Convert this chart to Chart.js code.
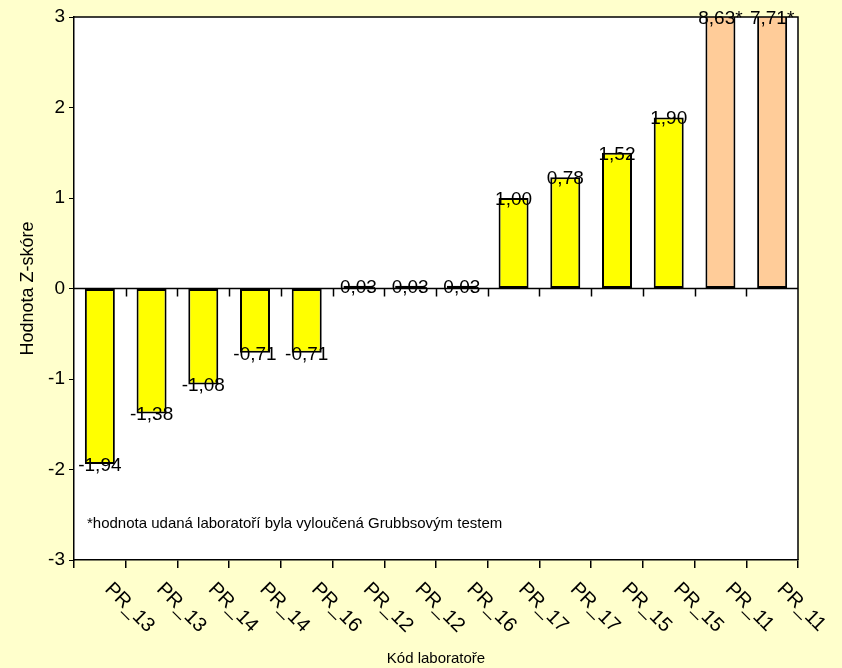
<!DOCTYPE html>
<html>
<head>
<meta charset="utf-8">
<script src="https://cdn.jsdelivr.net/npm/chart.js@4.4.1/dist/chart.umd.min.js"></script>
<style>
    html, body { margin: 0; padding: 0; background: #FFFFCC; }
    #wrap { width: 842px; height: 668px; }
</style>
</head>
<body>
<div id="wrap"><canvas id="zChart" width="842" height="668"></canvas></div>
<script>
// data
const LAB_CODES = ['PR_13','PR_13','PR_14','PR_14','PR_16','PR_12','PR_12','PR_16','PR_17','PR_17','PR_15','PR_15','PR_11','PR_11'];
const Z_SCORES = [-1.94, -1.38, -1.06, -0.71, -0.71, 0.03, 0.03, 0.03, 1.00, 1.23, 1.50, 1.89, 8.63, 7.71];
const VALUE_TEXT = ['-1,94','-1,38','-1,08','-0,71','-0,71','0,03','0,03','0,03','1,00','0,78','1,52','1,90','8,63*','7,71*'];
const EXCLUDED = [false,false,false,false,false,false,false,false,false,false,false,false,true,true];
const Y_MIN = -3;
const Y_MAX = 3;
const FOOTNOTE = '*hodnota udaná laboratoří byla vyloučená Grubbsovým testem';
const X_TITLE = 'Kód laboratoře';
const Y_TITLE = 'Hodnota Z-skóre';

const FONT = 'Arial, "Liberation Sans", sans-serif';

// pozadí, rámeček, nulová čára, popisky
const framePlugin = {
    id: 'zFrame',
    beforeDraw(chart) {
        const { ctx, chartArea: a } = chart;
        ctx.save();
        ctx.fillStyle = '#FFFFCC';
        ctx.fillRect(0, 0, chart.width, chart.height);
        ctx.fillStyle = '#FFFFFF';
        ctx.fillRect(a.left, a.top, a.right - a.left, a.bottom - a.top);
        ctx.restore();
    },
    afterDatasetsDraw(chart) {
        const { ctx, chartArea: a } = chart;
        const xs = chart.scales.x;
        const ys = chart.scales.y;
        const y0 = ys.getPixelForValue(0);
        ctx.save();

        // nulová čára s dílky
        ctx.strokeStyle = '#000';
        ctx.lineWidth = 1.5;
        ctx.beginPath();
        ctx.moveTo(a.left, y0);
        ctx.lineTo(a.right, y0);
        for (let i = 0; i < LAB_CODES.length - 1; i++) {
            const bx = Math.round((xs.getPixelForValue(i) + xs.getPixelForValue(i + 1)) / 2) + 0.5;
            ctx.moveTo(bx, y0);
            ctx.lineTo(bx, y0 + 8);
        }
        // horní a pravý okraj
        ctx.moveTo(a.left, a.top);
        ctx.lineTo(a.right, a.top);
        ctx.lineTo(a.right, a.bottom);
        ctx.stroke();

        // hodnoty u sloupců
        ctx.fillStyle = '#000';
        ctx.font = '19px ' + FONT;
        ctx.textAlign = 'center';
        ctx.textBaseline = 'alphabetic';
        Z_SCORES.forEach((v, i) => {
            const vc = Math.max(Y_MIN, Math.min(Y_MAX, v));
            const px = xs.getPixelForValue(i);
            const py = ys.getPixelForValue(vc);
            ctx.fillText(VALUE_TEXT[i], px, py + 7);
        });

        // popisky osy x (šikmo dolů)
        ctx.font = '20px ' + FONT;
        ctx.textAlign = 'left';
        ctx.textBaseline = 'middle';
        LAB_CODES.forEach((lab, i) => {
            const px = xs.getPixelForValue(i);
            ctx.save();
            ctx.translate(px + 8, a.bottom + 26);
            ctx.rotate(Math.PI / 4);
            ctx.fillText(lab, 0, 0);
            ctx.restore();
        });

        // poznámka
        ctx.font = '15px ' + FONT;
        ctx.textAlign = 'left';
        ctx.textBaseline = 'middle';
        ctx.fillText(FOOTNOTE, a.left + 13, ys.getPixelForValue(-2.6));

        // názvy os
        ctx.textAlign = 'center';
        ctx.fillText(X_TITLE, (a.left + a.right) / 2, 659);
        ctx.save();
        ctx.font = '18px ' + FONT;
        ctx.translate(28, (a.top + a.bottom) / 2);
        ctx.rotate(-Math.PI / 2);
        ctx.fillText(Y_TITLE, 0, 0);
        ctx.restore();

        ctx.restore();
    }
};

const zChart = new Chart(document.getElementById('zChart').getContext('2d'), {
    type: 'bar',
    data: {
        labels: LAB_CODES,
        datasets: [{
            data: Z_SCORES,
            backgroundColor: EXCLUDED.map(e => e ? '#FFCC99' : '#FFFF00'),
            borderColor: '#000000',
            borderWidth: 2,
            borderSkipped: false,
            categoryPercentage: 1,
            barPercentage: 0.58
        }]
    },
    options: {
        responsive: false,
        animation: false,
        layout: { padding: { top: 17, right: 44, left: 0, bottom: 0 } },
        plugins: {
            legend: { display: false },
            tooltip: { enabled: false }
        },
        scales: {
            x: {
                grid: { offset: true, drawOnChartArea: false, tickLength: 8, color: '#000', lineWidth: 1.5 },
                border: { color: '#000', width: 1.5 },
                ticks: { display: false },
                afterFit: s => { s.height = 108; }
            },
            y: {
                min: Y_MIN,
                max: Y_MAX,
                ticks: { stepSize: 1, color: '#000', font: { size: 19, family: FONT }, padding: 4 },
                grid: { drawOnChartArea: false, tickLength: 5, color: '#000' },
                border: { color: '#000', width: 1.5 },
                afterFit: s => { s.width = 74; }
            }
        }
    },
    plugins: [framePlugin]
});
</script>
</body>
</html>
